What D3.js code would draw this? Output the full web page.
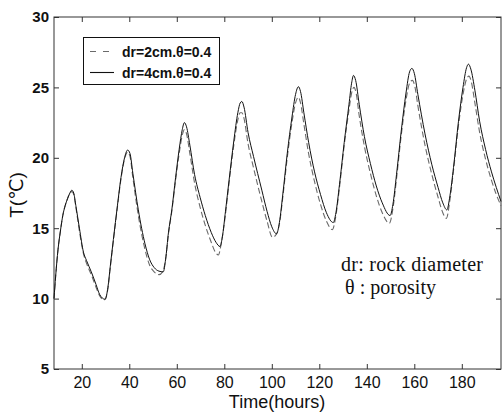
<!DOCTYPE html>
<html>
<head>
<meta charset="utf-8">
<script src="https://cdn.jsdelivr.net/npm/d3@7"></script>
<style>
  body { margin: 0; background: #fff; }
  svg { display: block; }
</style>
</head>
<body>
<div id="chart"></div>
<script>
// drawing space
const width = 502,
  height = 414,
  margin = { top: 17, bottom: 45, left: 54, right: 1 };

// data
const xTicks = [20, 40, 60, 80, 100, 120, 140, 160, 180];
const yTicks = [5, 10, 15, 20, 25, 30];
const seriesLabels = ["dr=2cm.\u03b8=0.4", "dr=4cm.\u03b8=0.4"];

// dr = 4cm (solid)
const hoursSolid = [8.3, 9, 10, 11, 12, 13, 14, 15, 15.8, 16.6, 17.5, 19, 20.7, 22, 24, 26, 27.5, 29.8,
  31, 32, 33.3, 35, 36.5, 38, 39.3, 40.3, 41.5, 43.8, 46.6, 48.5, 50.5, 52.5, 54.3,
  55.3, 56.5, 57.9, 59.5, 61, 62.3, 63.2, 64.1, 65.5, 67.5, 69.8, 72, 74.5, 76.5, 78.2,
  79.2, 80.5, 82, 84, 85.7, 86.7, 87.4, 88.3, 90, 92.3, 95.8, 98, 100, 102,
  103.2, 104.7, 106.5, 108.5, 110, 111.2, 112.1, 113.5, 115.5, 118, 120.5, 123, 125.9,
  127, 128.5, 130.5, 132.5, 133.6, 134.4, 135.3, 136.8, 139, 141.5, 144, 146.5, 149.8,
  151, 152.5, 154.5, 156.5, 158, 159, 160, 161.5, 164.5, 167.4, 170, 172, 173.7,
  175, 176.5, 178.6, 180.5, 182, 182.8, 183.8, 185.5, 187.5, 190, 192.5, 194.5, 196.5];
const tempSolid = [10.0, 11.6, 13.5, 14.8, 15.9, 16.6, 17.1, 17.5, 17.7, 17.5, 16.6, 15.0, 13.3, 12.7, 11.9, 11.0, 10.3, 9.95,
  10.8, 12.3, 14.2, 16.6, 18.6, 20.0, 20.55, 20.3, 18.9, 16.3, 13.9, 12.8, 12.2, 11.95, 11.9,
  12.8, 14.7, 16.3, 18.6, 20.6, 22.0, 22.5, 22.2, 20.9, 18.8, 17.2, 15.9, 14.7, 14.0, 13.7,
  14.4, 16.2, 18.4, 21.2, 23.2, 23.9, 24.0, 23.6, 21.8, 20.1, 17.7, 16.2, 15.1, 14.6,
  15.4, 17.5, 20.3, 22.9, 24.5, 25.05, 24.7, 23.2, 21.1, 19.0, 17.4, 16.1, 15.4,
  16.1, 18.1, 21.1, 23.8, 25.3, 25.85, 25.5, 23.8, 21.5, 19.6, 18.0, 16.8, 15.9,
  16.7, 18.8, 21.9, 24.6, 26.1, 26.35, 26.0, 24.5, 21.7, 19.5, 17.9, 16.8, 16.3,
  17.3, 19.3, 22.6, 25.0, 26.4, 26.65, 26.3, 24.8, 22.6, 20.6, 19.0, 17.9, 16.9];

// dr = 2cm (dashed)
const hoursDashed = [8.3, 9, 10, 11, 12, 13, 14, 15, 15.8, 16.6, 17.5, 19, 20.7, 22, 24, 26, 27.5, 29.5,
  31, 32, 33.3, 35, 36.5, 38, 39.3, 40.3, 41.5, 43.8, 46.6, 48.5, 50.5, 52.5, 54,
  55.3, 56.5, 57.9, 59.5, 61, 62.3, 63.2, 64.1, 65.5, 67.5, 69.8, 72, 74.5, 76.2, 77.5,
  78.8, 80.5, 82, 84, 85.7, 86.7, 87.4, 88.3, 90, 92.3, 95.8, 98, 100.3, 102,
  103.2, 104.7, 106.5, 108.5, 110, 111.2, 112.1, 113.5, 115.5, 118, 120.5, 123, 125.5,
  127, 128.5, 130.5, 132.5, 133.6, 134.6, 135.5, 136.8, 139, 141.5, 144, 146.5, 149.5,
  151, 152.5, 154.5, 156.5, 158, 159.2, 160.2, 161.5, 164.5, 167.4, 170, 172, 173.5,
  175, 176.5, 178.6, 180.5, 182, 183, 184, 185.5, 187.5, 190, 192.5, 194.5, 196.5];
const tempDashed = [10.0, 11.6, 13.5, 14.8, 15.9, 16.6, 17.1, 17.5, 17.6, 17.4, 16.5, 14.8, 13.2, 12.5, 11.7, 10.8, 10.2, 9.9,
  10.7, 12.2, 14.1, 16.5, 18.5, 19.9, 20.4, 20.1, 18.6, 15.9, 13.5, 12.4, 11.9, 11.7, 11.9,
  12.8, 14.6, 16.2, 18.4, 20.3, 21.6, 22.0, 21.7, 20.3, 18.2, 16.5, 15.2, 14.0, 13.3, 13.1,
  14.0, 16.0, 18.2, 20.9, 22.7, 23.2, 23.2, 22.8, 21.0, 19.3, 16.9, 15.5, 14.35, 14.6,
  15.3, 17.3, 20.0, 22.5, 23.9, 24.3, 23.9, 22.4, 20.3, 18.3, 16.7, 15.5, 14.9,
  15.9, 17.9, 20.9, 23.4, 24.6, 25.0, 24.6, 23.0, 20.8, 18.9, 17.3, 16.1, 15.35,
  16.4, 18.5, 21.6, 24.1, 25.3, 25.5, 25.1, 23.7, 20.9, 18.8, 17.2, 16.1, 15.7,
  17.0, 19.1, 22.3, 24.5, 25.6, 25.8, 25.4, 23.9, 21.8, 19.9, 18.4, 17.4, 16.6];

const solidData = hoursSolid.map((h, i) => ({ hour: h, temp: tempSolid[i] }));
const dashedData = hoursDashed.map((h, i) => ({ hour: h, temp: tempDashed[i] }));

const xScale = d3.scaleLinear()
  .domain([8.3, 196.5])
  .range([margin.left, width - margin.right]);

const yScale = d3.scaleLinear()
  .domain([5, 30])
  .range([height - margin.bottom, margin.top]);

const svg = d3.select("#chart")
  .append("svg")
  .attr("width", width)
  .attr("height", height);

const axisColor = "#333";

// axes, ticks pointing inward
const xAxisGroup = svg.append("g")
  .attr("transform", `translate(0, ${height - margin.bottom})`)
  .call(d3.axisBottom(xScale).tickValues(xTicks).tickSize(-5).tickPadding(8));

svg.append("g")
  .attr("transform", `translate(0, ${margin.top})`)
  .call(d3.axisTop(xScale).tickValues(xTicks).tickSize(-5).tickFormat(""));

const yAxisGroup = svg.append("g")
  .attr("transform", `translate(${margin.left}, 0)`)
  .call(d3.axisLeft(yScale).tickValues(yTicks).tickSize(-5).tickPadding(5));

svg.append("g")
  .attr("transform", `translate(${width - margin.right}, 0)`)
  .call(d3.axisRight(yScale).tickValues(yTicks).tickSize(-5).tickFormat(""));

svg.selectAll(".domain").remove();
svg.selectAll(".tick line").attr("stroke", axisColor);

xAxisGroup.selectAll("text")
  .attr("font-family", "'Liberation Sans', Arial, sans-serif")
  .attr("font-size", 16)
  .attr("fill", "#111");

yAxisGroup.selectAll("text")
  .attr("font-family", "'Liberation Sans', Arial, sans-serif")
  .attr("font-size", 15)
  .attr("font-weight", "bold")
  .attr("fill", "#111");

// frame
svg.append("rect")
  .attr("x", margin.left)
  .attr("y", margin.top)
  .attr("width", width - margin.right - margin.left)
  .attr("height", height - margin.bottom - margin.top)
  .attr("fill", "none")
  .attr("stroke", axisColor)
  .attr("stroke-width", 1);

// axis titles
svg.append("text")
  .attr("x", 277)
  .attr("y", 408)
  .attr("text-anchor", "middle")
  .attr("font-family", "'Liberation Sans', Arial, sans-serif")
  .attr("font-size", 18)
  .attr("fill", "#111")
  .text("Time(hours)");

svg.append("text")
  .attr("transform", `translate(23, 195) rotate(-90)`)
  .attr("text-anchor", "middle")
  .attr("font-family", "'Liberation Sans', 'DejaVu Sans', Arial, sans-serif")
  .attr("font-size", 19)
  .attr("fill", "#111")
  .text("T(\u2103)");

// lines
const lineFunction = d3.line()
  .x(d => xScale(d.hour))
  .y(d => yScale(d.temp))
  .curve(d3.curveMonotoneX);

svg.append("path")
  .datum(dashedData)
  .attr("d", lineFunction)
  .attr("fill", "none")
  .attr("stroke", "#6a6a6a")
  .attr("stroke-width", 1.1)
  .attr("stroke-dasharray", "6,3");

svg.append("path")
  .datum(solidData)
  .attr("d", lineFunction)
  .attr("fill", "none")
  .attr("stroke", "#111")
  .attr("stroke-width", 1);

// legend
const legend = svg.append("g");
legend.append("rect")
  .attr("x", 83.5)
  .attr("y", 37.5)
  .attr("width", 136)
  .attr("height", 47)
  .attr("fill", "#fff")
  .attr("stroke", "#111");

const legendRows = [
  { label: seriesLabels[0], dash: "6,7", color: "#6a6a6a", y: 51.5 },
  { label: seriesLabels[1], dash: null, color: "#111", y: 72.5 }
];

legendRows.forEach(r => {
  legend.append("line")
    .attr("x1", 90).attr("x2", 114)
    .attr("y1", r.y).attr("y2", r.y)
    .attr("stroke", r.color)
    .attr("stroke-width", 1.1)
    .attr("stroke-dasharray", r.dash);
  legend.append("text")
    .attr("x", 122)
    .attr("y", r.y + 5)
    .attr("font-family", "'Liberation Sans', Arial, sans-serif")
    .attr("font-size", 14)
    .attr("font-weight", "bold")
    .attr("fill", "#111")
    .text(r.label);
});

// annotation
const note = svg.append("g")
  .attr("font-family", "'Liberation Serif', 'Times New Roman', serif")
  .attr("font-size", 20)
  .attr("fill", "#111");

note.append("text")
  .attr("x", 341)
  .attr("y", 271)
  .attr("textLength", 142)
  .text("dr: rock diameter");

note.append("text")
  .attr("x", 345)
  .attr("y", 294)
  .attr("textLength", 91)
  .text("\u03b8 : porosity");
</script>
</body>
</html>
